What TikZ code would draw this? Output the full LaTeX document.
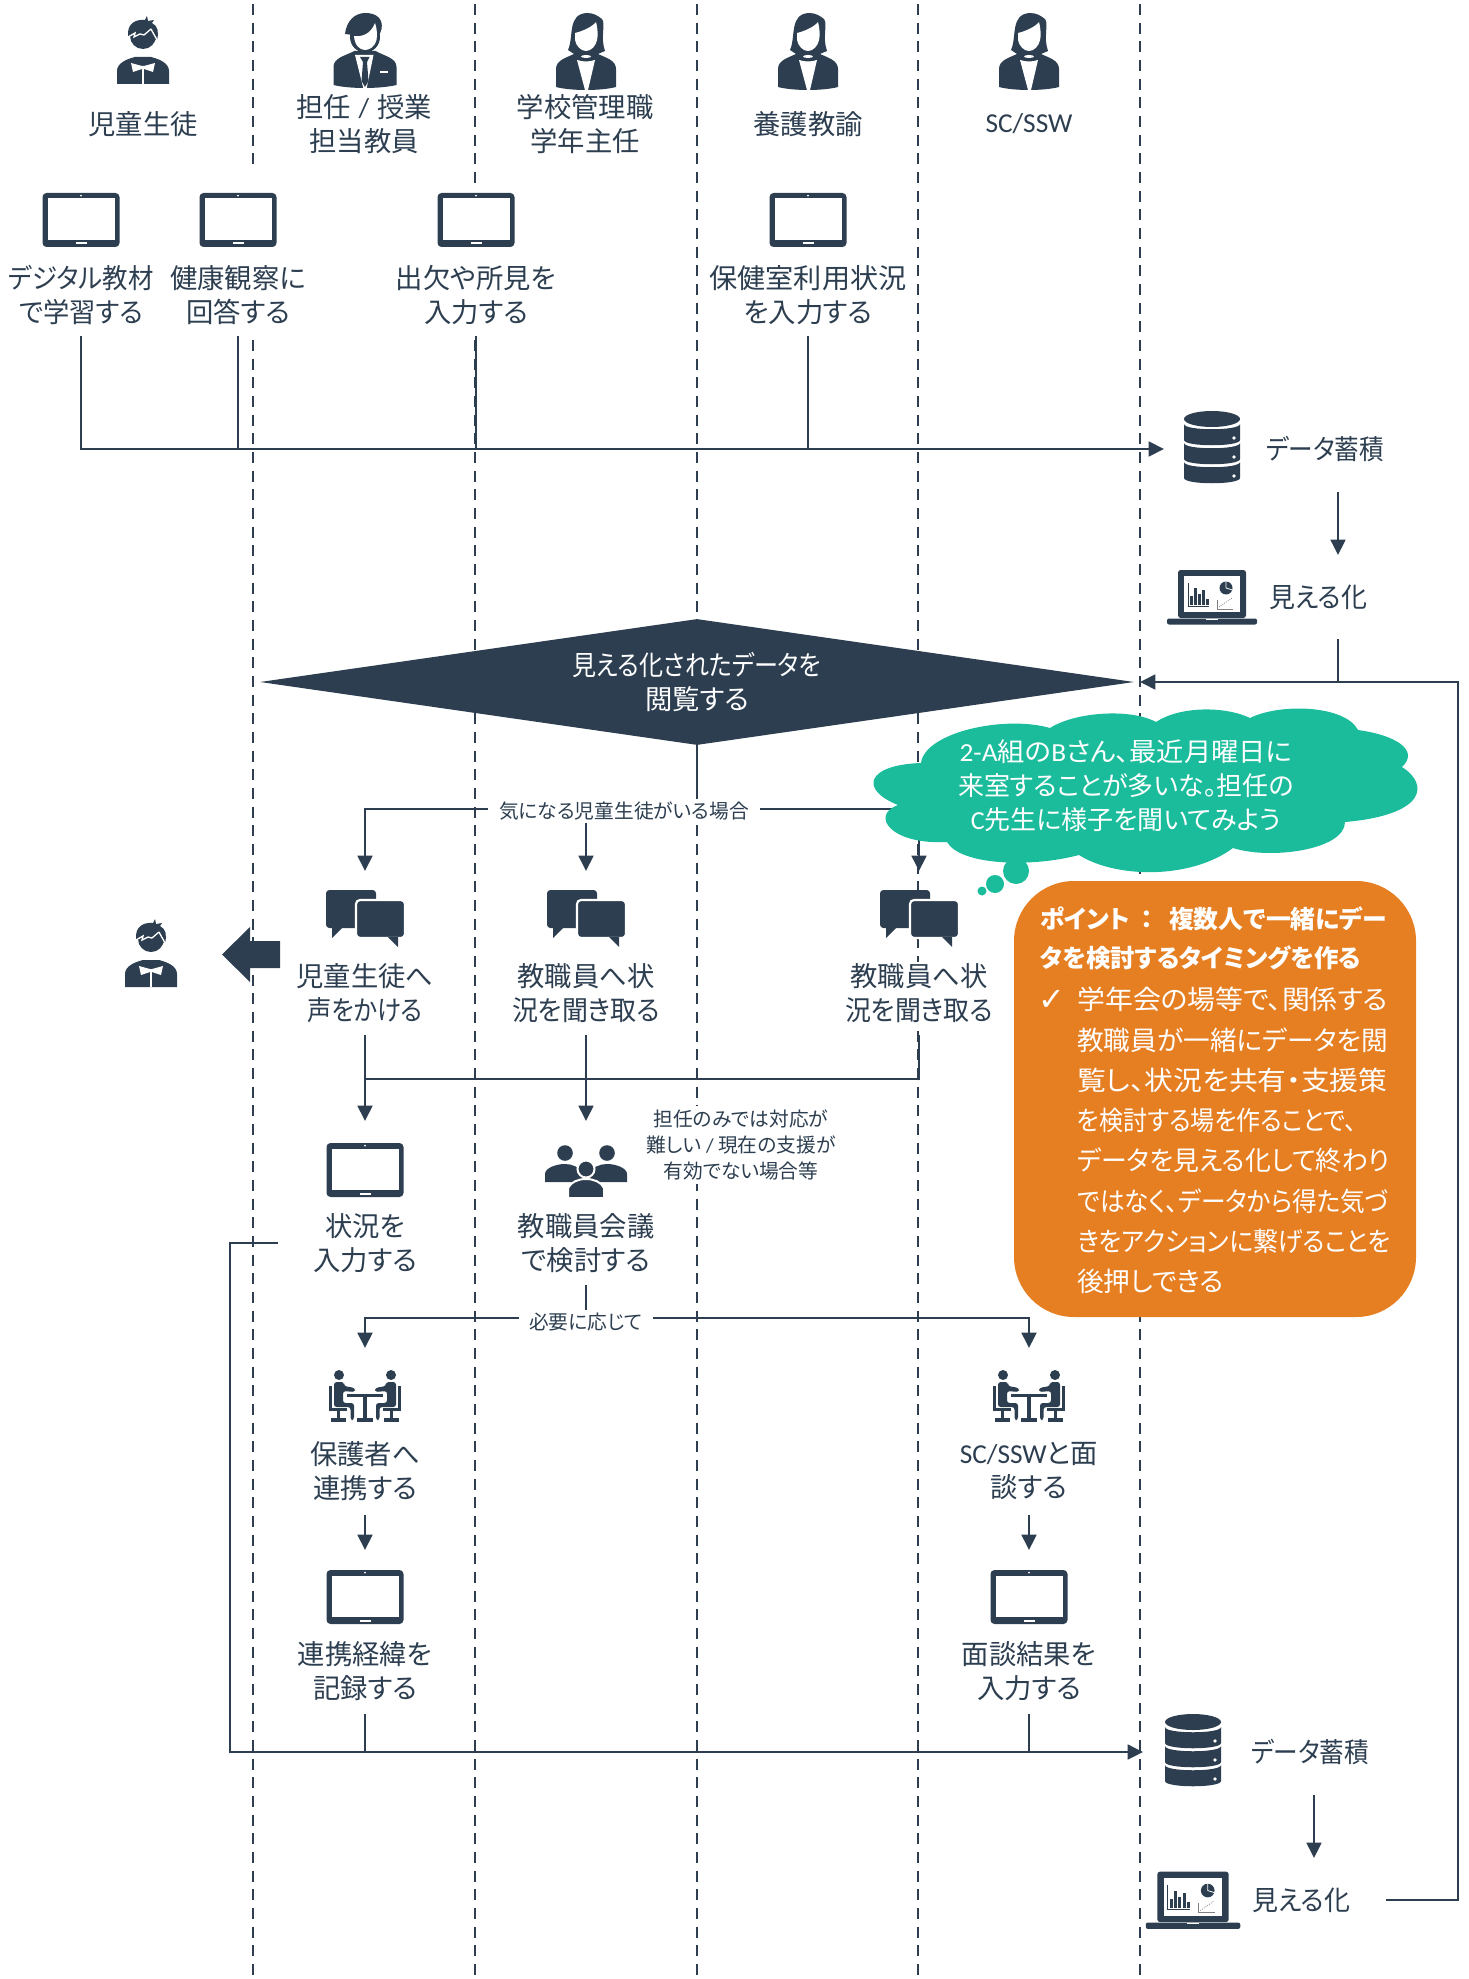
\documentclass[tikz,border=0pt]{standalone}
\usepackage{graphicx}
\usepackage{fontspec}
\setmainfont[RawFeature=+palt]{Noto Sans CJK JP}
\newfontfamily\latfont{Carlito}
\newfontfamily\symfont{DejaVu Sans}
\usetikzlibrary{arrows.meta,shapes.geometric}
\definecolor{navy}{HTML}{2C3E50}
\definecolor{teal}{HTML}{1ABC9C}
\definecolor{orange}{HTML}{E67E22}
\newcommand{\squeeze}[2]{\scalebox{#1}[1]{#2}}
\tikzset{
  lane/.style={navy,line width=2pt,dash pattern=on 8.2pt off 5.8pt},
  conn/.style={navy,line width=2pt},
  arrow/.style={conn,-{Stealth[length=11.5pt,width=11pt,inset=0pt]}},
  lbl/.style={navy,align=center,fill=white,inner sep=1pt,font=\fontsize{20.5}{25.5}\selectfont},
  small/.style={navy,align=center,fill=white,inner sep=3pt,font=\fontsize{14.8}{19.5}\selectfont},
  tablet/.pic={
    \fill[navy,rounded corners=3] (-38.5,-27) rectangle (38.5,27);
    \fill[white] (-33.5,-21.5) rectangle (33.5,20);
    \fill[white] (-5.5,22.5) rectangle (5.5,24.5);
    \fill[white] (0,-24.3) circle (1);
  },
  student/.pic={
    \fill[navy] (0,-14) circle (13);
    \fill[navy] (-15,-14) .. controls (-16,-26) and (-8,-31) .. (2,-30) -- (4,-34) -- (5,-29) -- (11,-30) -- (9,-27) .. controls (15,-24) and (16,-18) .. (14,-10) -- cycle;
    \draw[white,line width=1pt] (-15,-13) -- (-8,-17) -- (-9,-13) -- (-3,-16) -- (1,-15) -- (8,-21);
    \draw[white,line width=1pt] (8,-21) .. controls (10,-17) and (12,-14) .. (14,-10);
    \fill[navy] (-26,34) -- (-26,21) .. controls (-26,13) and (-16,9) .. (-8,7) -- (8,7) .. controls (16,9) and (26,13) .. (26,21) -- (26,34) -- cycle;
    \fill[white] (-12,13) -- (-1,16) -- (1,16) -- (12,13) -- (10,22) -- (1,19) -- (-1,19) -- (-10,22) -- cycle;
    \draw[white,line width=0.8pt] (0,18) -- (0,34);
  },
  chat/.pic={
    \fill[navy,rounded corners=2.5] (-39,-28) rectangle (11,10);
    \fill[navy] (-33,8) -- (-33,20) -- (-21,8) -- cycle;
    \fill[navy,draw=white,line width=1.6pt,rounded corners=3] (-9,-18) rectangle (40,20);
    \fill[navy] (23,19) -- (33,29) -- (33,19) -- cycle;
  },
  group/.pic={
    \foreach \side in {-1,1}{
      \begin{scope}[xscale=\side]
        \fill[navy] (21,-17) circle (7.8);
        \fill[navy] (3,12) -- (3,4) .. controls (6,-3) and (14,-6) .. (21,-6) .. controls (30,-6) and (41,-2) .. (41,4) -- (41,12) -- cycle;
      \end{scope}
    }
    \fill[navy,draw=white,line width=1.5pt] (0,-1) circle (8.5);
    \fill[navy,draw=white,line width=1.5pt] (-18,28) -- (-18,18) .. controls (-15,12) and (-8,9) .. (0,9) .. controls (8,9) and (15,12) .. (18,18) -- (18,28) -- cycle;
  },
  meeting/.pic={
    \fill[navy] (-18,-2.5) rectangle (18,0.5);
    \fill[navy] (-2,0) rectangle (2,23);
    \fill[navy] (-8,22) rectangle (8,26);
    \foreach \side in {-1,1}{
      \begin{scope}[xscale=\side]
        \fill[navy] (26,-21) circle (5);
        \fill[navy,rounded corners=2] (31,-14) -- (21,-14) -- (21,-10) -- (10,-8) -- (10,-4) -- (22,-5) -- (22,7) -- (11,7) -- (11,24) -- (14.5,24) -- (14.5,11) -- (31,11) -- cycle;
        \fill[navy] (36,-10) rectangle (33,14);
        \fill[navy] (36,12) rectangle (18,15);
        \fill[navy] (28,15) rectangle (25,22);
        \fill[navy] (34,22) rectangle (19,26);
      \end{scope}
    }
  },
  database/.pic={
    \fill[navy] (0,-30) ellipse (28 and 8);
    \foreach \top in {-25,-6,13}{
      \fill[navy] (-28,\top) .. controls (-28,\top+7) and (28,\top+7) .. (28,\top) -- (28,\top+16) .. controls (28,\top+23) and (-28,\top+23) .. (-28,\top+16) -- cycle;
      \fill[white] (22,\top+14) circle (1.8);
    }
  },
  laptop/.pic={
    \fill[navy,rounded corners=2] (-34,-27) rectangle (34,21);
    \fill[white] (-28,-21) rectangle (28,15);
    \fill[navy,rounded corners=1.5] (-45,21.5) rectangle (45,27.5);
    \fill[white] (-6,21.5) rectangle (6,23);
    \draw[navy,line width=0.7pt] (-24,-14) -- (-24,9) -- (-3,9);
    \foreach \bx/\by in {-22/-1,-18/-9,-14/-3,-10/-7,-6/2}{
      \fill[navy] (\bx,\by) rectangle (\bx+3,8);
    }
    \fill[navy] (14,-9) circle (6.5);
    \draw[white,line width=0.6pt] (14,-15.5) -- (14,-9) -- (20.5,-7);
    \draw[gray,line width=0.4pt] (5,3) -- (5,12) -- (21,12);
    \draw[gray,line width=0.6pt,densely dotted] (7,10) -- (20,1);
  },
  woman/.pic={
    \fill[navy] (-18,-2) .. controls (-12,-15) and (-19,-38) .. (1,-39) .. controls (8,-39) and (12,-36) .. (16,-33) .. controls (20,-28) and (14,-15) .. (19,-1) -- (12,2) -- (-12,2) -- cycle;
    \fill[white] (-11,-19) .. controls (-3,-21) and (6,-25) .. (10,-30) .. controls (12,-22) and (12,-16) .. (11,-12) .. controls (10,-6) and (5,-1) .. (0,-1) .. controls (-5,-1) and (-10,-6) .. (-11,-12) -- cycle;
    \fill[navy] (-30,35) -- (-30,17) .. controls (-30,8) and (-20,6) .. (-10,1) -- (10,1) .. controls (20,6) and (30,8) .. (30,17) -- (30,35) .. controls (15,39) and (-15,39) .. (-30,35) -- cycle;
    \fill[white] (0,4.5) ellipse (5 and 1.5);
    \fill[white] (-9,8) .. controls (-3,10) and (3,10) .. (9,8) -- (2,38) -- (-1,38) -- cycle;
  },
  teacher/.pic={
    \fill[navy] (0.5,-14) ellipse (15 and 15.5);
    \fill[navy] (-19.5,-17) .. controls (-18,-30) and (-10,-38) .. (1,-38) .. controls (12,-38) and (19,-32) .. (17,-22) .. controls (16,-18) and (14,-14) .. (13,-12) -- (-11,-16) -- cycle;
    \fill[white] (-10.5,-15) .. controls (-4,-14) and (6,-16) .. (10.5,-28) .. controls (13,-22) and (12.5,-14) .. (12,-11) .. controls (10,-4) and (5,-1) .. (0.5,-1) .. controls (-5,-1) and (-10,-6) .. (-10.5,-15) -- cycle;
    \fill[navy] (-31,34) -- (-31,16) .. controls (-31,7) and (-20,5) .. (-10,0) -- (11,0) .. controls (20,5) and (32,7) .. (32,16) -- (32,34) .. controls (15,38) and (-15,38) .. (-31,34) -- cycle;
    \fill[white] (-9.5,4) -- (9,4) -- (2,38) -- (-1,38) -- cycle;
    \fill[navy] (-4.5,6) -- (5,6) -- (2.5,11) -- (4,30) -- (0.5,36) -- (-3,30) -- (-1.5,11) -- cycle;
    \fill[white] (15,20.5) rectangle (23,22.5);
  },
}
\begin{document}
\begin{tikzpicture}[x=0.75pt,y=-0.75pt]
  \useasboundingbox (0,0) rectangle (1468,1979);
  % lanes
  \foreach \x in {253,475,697,918,1140}{
    \draw[lane] (\x,4) -- (\x,1979);
  }
  \fill[white] (243,164) rectangle (263,334);
  \fill[white] (465,187) rectangle (485,334);

  % actors
  \pic at (143,50) {student};
  \pic at (364.5,51) {teacher};
  \pic at (586,52) {woman};
  \pic at (808,52) {woman};
  \pic at (1029,52) {woman};
  \node[lbl] (student) at (143,124) {児童生徒};
  \node[lbl] (homeroom) at (364,124) {担任\hspace{6pt}{\latfont /}\hspace{6pt}授業\\担当教員};
  \node[lbl] (admin) at (585,124) {学校管理職\\学年主任};
  \node[lbl] (nurse) at (808,124) {養護教諭};
  \node[lbl] (counsel) at (1029,124) {\latfont SC/SSW};

  % first inputs
  \pic at (81,220) {tablet};
  \pic at (238,220) {tablet};
  \pic at (476,220) {tablet};
  \pic at (808,220) {tablet};
  \node[lbl] (study) at (81,295) {\squeeze{.93}{デジタル教材}\\\squeeze{.96}{で学習する}};
  \node[lbl] (health) at (238,295) {健康観察に\\回答する};
  \node[lbl] (attend) at (476,295) {出欠や所見を\\入力する};
  \node[lbl] (infirmary) at (808,295) {\squeeze{1.03}{保健室利用状況}\\を入力する};
  \coordinate (study-out) at (81,336);
  \coordinate (health-out) at (238,336);
  \coordinate (attend-out) at (476,336);
  \coordinate (infirmary-out) at (808,336);
  \coordinate (store-in) at (1164,449);
  \draw[arrow] (study-out) |- (store-in);
  \draw[conn] (health-out) -- (health-out |- store-in);
  \draw[conn] (attend-out) -- (attend-out |- store-in);
  \draw[conn] (infirmary-out) -- (infirmary-out |- store-in);

  % store and view
  \pic at (1212,449) {database};
  \pic at (1212,597) {laptop};
  \node[lbl] (store) at (1325,449) {\squeeze{.9}{データ蓄積}};
  \node[lbl] (view) at (1318,597) {\squeeze{.95}{見える化}};
  \coordinate (store-out) at (1338,492);
  \coordinate (view-in) at (1338,555);
  \coordinate (view-out) at (1338,639);
  \draw[arrow] (store-out) -- (view-in);

  % browse
  \node[diamond,aspect=6.94,fill=navy,text=white,align=center,inner sep=0pt,minimum width=655.5pt,minimum height=94.5pt,font=\fontsize{20.5}{25.5}\selectfont] (browse) at (697,682) {\squeeze{.88}{見える化されたデータを}\\閲覧する};
  \coordinate (browse-tip) at (1140,682);
  \draw[conn] (view-out) -- (view-out |- browse-tip);

  % response row
  \coordinate (split) at (697,809);
  \pic at (365,918) {chat};
  \pic at (586,918) {chat};
  \pic at (919,918) {chat};
  \node[lbl] (callout) at (365,993) {児童生徒へ\\\squeeze{.89}{声をかける}};
  \node[lbl] (askstaff) at (586,993) {教職員へ状\\\squeeze{.95}{況を聞き取る}};
  \node[lbl] (asknurse) at (919,993) {教職員へ状\\\squeeze{.95}{況を聞き取る}};
  \coordinate (callout-in) at (365,871);
  \coordinate (askstaff-in) at (586,871);
  \coordinate (asknurse-in) at (919,871);
  \draw[conn] (browse.south) -- (split);
  \draw[arrow] (split) -| (callout-in);
  \draw[arrow] (split) -| (asknurse-in);
  \draw[arrow] (split) -| (askstaff-in);
  \node[small,inner ysep=2pt,inner xsep=8pt] (concern) at (624,811) {気になる児童生徒がいる場合};

  % student again
  \pic at (151,953) {student};
  \fill[navy] (280,941) -- (250,941) -- (250,927) -- (222,954.5) -- (250,982) -- (250,968) -- (280,968) -- cycle;

  % record and meeting
  \pic at (365,1170) {tablet};
  \pic at (586,1170) {group};
  \node[lbl] (record) at (365,1243) {状況を\\入力する};
  \node[lbl] (conf) at (586,1243) {教職員会議\\で検討する};
  \node[small] (hard) at (741,1145) {担任のみでは対応が\\難しい {\latfont /} 現在の支援が\\有効でない場合等};
  \coordinate (callout-out) at (365,1035);
  \coordinate (askstaff-out) at (586,1035);
  \coordinate (asknurse-out) at (919,1035);
  \coordinate (merge) at (365,1079);
  \coordinate (record-in) at (365,1121);
  \coordinate (conf-in) at (586,1121);
  \draw[arrow] (callout-out) -- (record-in);
  \draw[arrow] (askstaff-out) -- (conf-in);
  \draw[conn] (asknurse-out) |- (merge);

  % next step
  \coordinate (conf-out) at (586,1285);
  \coordinate (branch) at (586,1318);
  \coordinate (parent-in) at (365,1348);
  \coordinate (sc-in) at (1029,1348);
  \draw[conn] (conf-out) -- (branch);
  \draw[arrow] (branch) -| (parent-in);
  \draw[arrow] (branch) -| (sc-in);
  \node[small,inner ysep=2pt,inner xsep=8pt] (needed) at (586,1322) {必要に応じて};
  \pic at (365,1396) {meeting};
  \pic at (1029,1396) {meeting};
  \node[lbl] (parent) at (365,1471) {保護者へ\\連携する};
  \node[lbl] (sc) at (1029,1471) {{\latfont SC/SSW}と面\\談する};
  \coordinate (parent-out) at (365,1515);
  \coordinate (sc-out) at (1029,1515);
  \coordinate (log-in) at (365,1550);
  \coordinate (result-in) at (1029,1550);
  \draw[arrow] (parent-out) -- (log-in);
  \draw[arrow] (sc-out) -- (result-in);
  \pic at (365,1597) {tablet};
  \pic at (1029,1597) {tablet};
  \node[lbl] (log) at (365,1671) {連携経緯を\\記録する};
  \node[lbl] (result) at (1029,1671) {面談結果を\\入力する};

  % second store
  \coordinate (record-out) at (278,1243);
  \coordinate (elbow) at (230,1752);
  \coordinate (store2-in) at (1143,1752);
  \coordinate (log-out) at (365,1714);
  \coordinate (result-out) at (1029,1714);
  \draw[arrow] (record-out) -| (elbow) -- (store2-in);
  \draw[conn] (log-out) -- (log-out |- store2-in);
  \draw[conn] (result-out) -- (result-out |- store2-in);
  \pic at (1193,1752) {database};
  \pic[scale=1.05] at (1193,1900) {laptop};
  \node[lbl] (store2) at (1310,1752) {\squeeze{.9}{データ蓄積}};
  \node[lbl] (view2) at (1301,1900) {\squeeze{.95}{見える化}};
  \coordinate (store2-out) at (1314,1795);
  \coordinate (view2-in) at (1314,1858);
  \coordinate (view2-out) at (1386,1900);
  \coordinate (loop) at (1458,682);
  \draw[arrow] (store2-out) -- (view2-in);
  \draw[arrow] (view2-out) -| (loop) -- (browse-tip);

  % thought cloud
  \fill[teal] (921,763) .. controls (925,732) and (1005,715) .. (1050,728)
    .. controls (1075,712) and (1130,708) .. (1156,722)
    .. controls (1180,706) and (1225,706) .. (1250,718)
    .. controls (1280,703) and (1345,705) .. (1358,730)
    .. controls (1395,735) and (1420,750) .. (1402,767)
    .. controls (1430,785) and (1425,815) .. (1345,822)
    .. controls (1345,850) and (1270,860) .. (1233,848)
    .. controls (1190,880) and (1115,878) .. (1079,855)
    .. controls (1030,868) and (960,865) .. (947,842)
    .. controls (890,845) and (870,815) .. (898,805)
    .. controls (860,790) and (865,765) .. (921,763) -- cycle;
  \fill[teal] (1016,871) circle (13);
  \fill[teal] (995,884) circle (9);
  \fill[teal] (982,891) circle (4.5);
  \node[white,align=center,font=\fontsize{19.5}{25.5}\selectfont] (think) at (1126,786) {\squeeze{1.05}{{\latfont 2-A}組の{\latfont B}さん、最近月曜日に}\\来室することが多いな。担任の\\{\latfont C}先生に様子を聞いてみよう};

  % point box
  \fill[orange,rounded corners=45pt] (1014,881) rectangle (1416,1317);
  \node[white,anchor=north west,align=left,inner sep=0pt,font=\bfseries\fontsize{18.6}{29.5}\selectfont] (pointhead) at (1040,906) {ポイント\hspace{8pt}：\hspace{12pt}複数人で一緒にデー\\\squeeze{.985}{タを検討するタイミングを作る}};
  \node[white,inner sep=0pt,font=\symfont\fontsize{24}{26}\selectfont] (check) at (1052,1000) {✓};
  \node[white,anchor=north west,align=left,inner sep=0pt,font=\fontsize{20}{30.2}\selectfont] (pointbody) at (1077,987) {\squeeze{1.045}{学年会の場等で、関係する}\\教職員が一緒にデータを閲\\\squeeze{1.08}{覧し、状況を共有・支援策}\\\squeeze{.9}{を検討する場を作ることで、}\\\squeeze{.97}{データを見える化して終わり}\\\squeeze{.925}{ではなく、データから得た気づ}\\\squeeze{.93}{きをアクションに繋げることを}\\後押しできる};
\end{tikzpicture}
\end{document}
